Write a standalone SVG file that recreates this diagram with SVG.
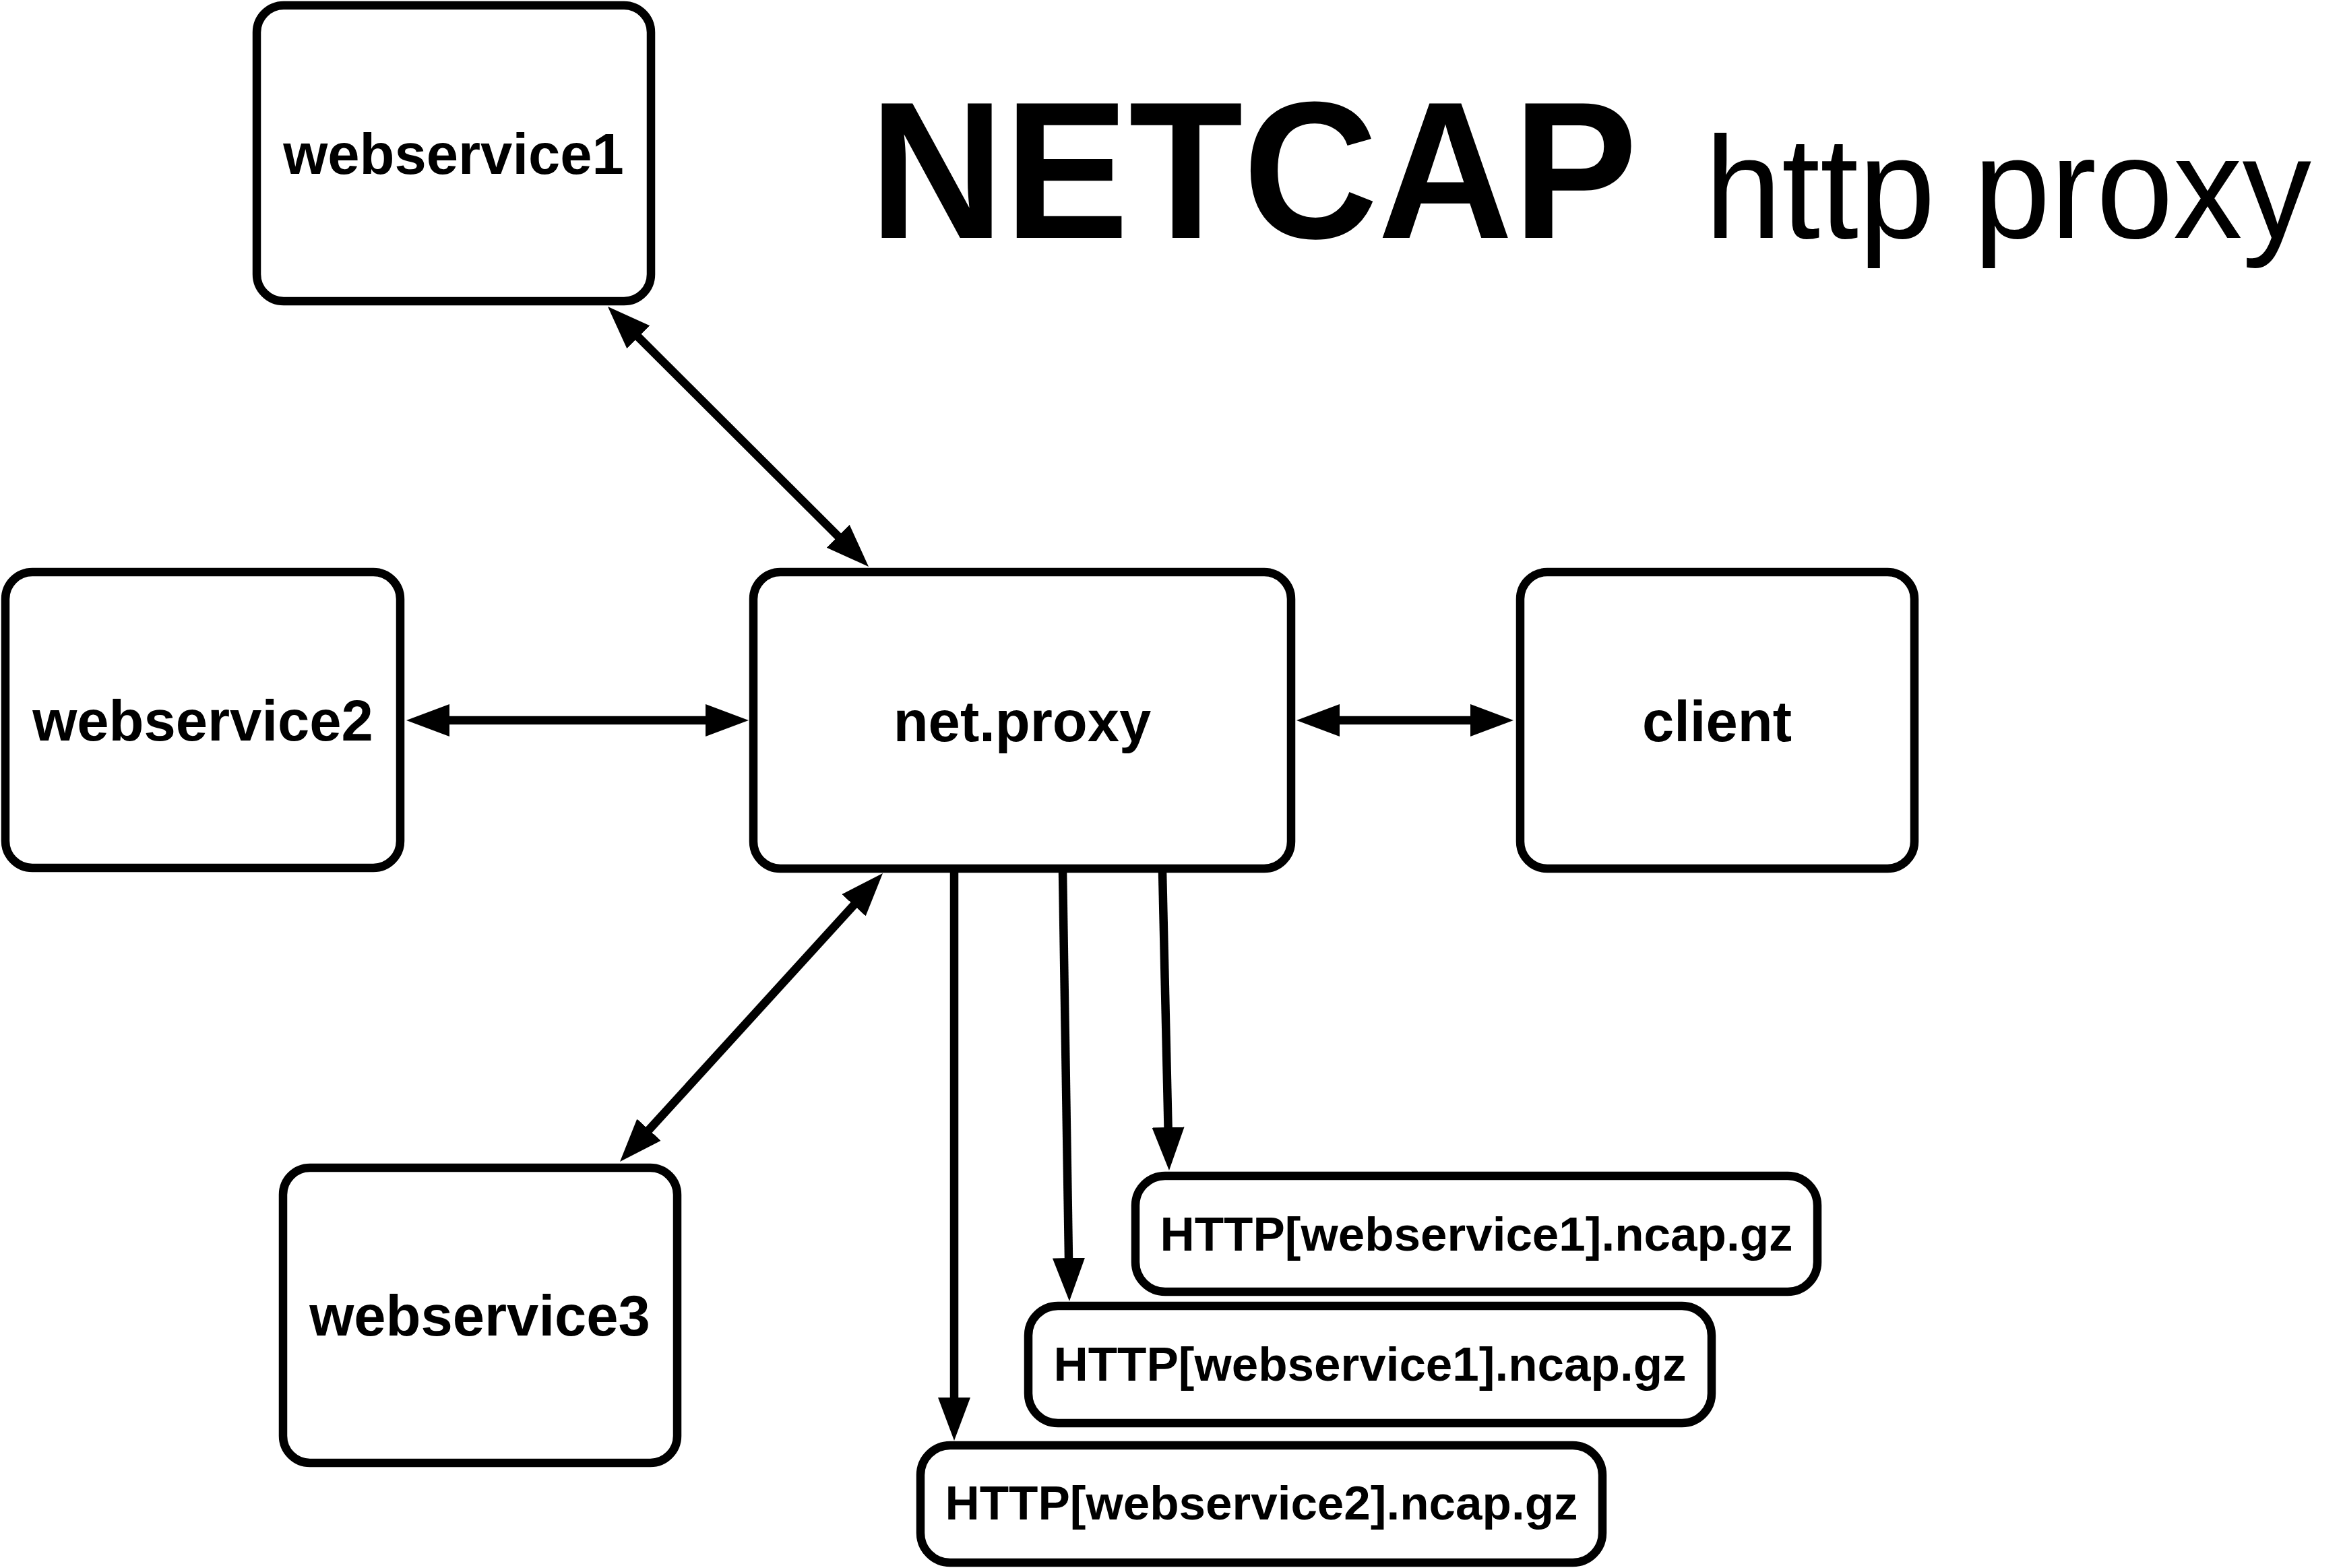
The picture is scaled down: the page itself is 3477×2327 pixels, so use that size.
<svg xmlns="http://www.w3.org/2000/svg" width="3477" height="2327" viewBox="0 0 3477 2327">
<style>
.box{fill:#fff;stroke:#000;stroke-width:12.5}
.lbl{font-family:"Liberation Sans",Arial,sans-serif;font-weight:bold;font-size:85px;text-anchor:middle;fill:#000}
.file{font-family:"Liberation Sans",Arial,sans-serif;font-weight:bold;font-size:71px;text-anchor:middle;fill:#000}
.con{fill:none;stroke:#000;stroke-width:12.5}
.t1{font-family:"Liberation Sans",Arial,sans-serif;font-weight:bold;font-size:290px;fill:#000}
.t2{font-family:"Liberation Sans",Arial,sans-serif;font-size:215px;fill:#000}
</style>
<defs>
<marker id="ah" markerUnits="userSpaceOnUse" markerWidth="70" markerHeight="50" viewBox="0 -25 70 50" refX="34" refY="0" orient="auto-start-reverse">
<path d="M0,-24 L64,0 L0,24 z" fill="#000"/>
</marker>
</defs>
<rect width="3477" height="2327" fill="#fff"/>
<g id="title">
<text class="t1" x="1290" y="353" textLength="1140" lengthAdjust="spacingAndGlyphs">NETCAP</text>
<text class="t2" x="2530" y="353" textLength="900" lengthAdjust="spacingAndGlyphs">http proxy</text>
</g>
<g id="connectors">
<line class="con" x1="923.2" y1="476.2" x2="1267.8" y2="819.8" marker-start="url(#ah)" marker-end="url(#ah)"/>
<line class="con" x1="633" y1="1069" x2="1081" y2="1069" marker-start="url(#ah)" marker-end="url(#ah)"/>
<line class="con" x1="1954" y1="1069" x2="2216" y2="1069" marker-start="url(#ah)" marker-end="url(#ah)"/>
<line class="con" x1="1289.8" y1="1318.2" x2="940.2" y2="1701.8" marker-start="url(#ah)" marker-end="url(#ah)"/>
<line class="con" x1="1416" y1="1292" x2="1416" y2="2108" marker-end="url(#ah)"/>
<line class="con" x1="1577" y1="1292" x2="1586.5" y2="1901" marker-end="url(#ah)"/>
<line class="con" x1="1725" y1="1292" x2="1734.3" y2="1707" marker-end="url(#ah)"/>
</g>
<g id="webservice1">
<rect class="box" x="381" y="8" width="585" height="439" rx="40"/>
<text class="lbl" x="673" y="258">webservice1</text>
</g>
<g id="webservice2">
<rect class="box" x="8" y="849" width="586" height="439" rx="40"/>
<text class="lbl" x="301" y="1099">webservice2</text>
</g>
<g id="netproxy">
<rect class="box" x="1118" y="849" width="798" height="440" rx="40"/>
<text class="lbl" x="1517" y="1100">net.proxy</text>
</g>
<g id="client">
<rect class="box" x="2256" y="849" width="585" height="440" rx="40"/>
<text class="lbl" x="2548" y="1100">client</text>
</g>
<g id="webservice3">
<rect class="box" x="420" y="1733" width="585" height="438" rx="40"/>
<text class="lbl" x="712" y="1982">webservice3</text>
</g>
<g id="file1">
<rect class="box" x="1685" y="1745" width="1012" height="172" rx="44"/>
<text class="file" x="2191" y="1856">HTTP[webservice1].ncap.gz</text>
</g>
<g id="file2">
<rect class="box" x="1526" y="1938" width="1014" height="174" rx="44"/>
<text class="file" x="2033" y="2049">HTTP[webservice1].ncap.gz</text>
</g>
<g id="file3">
<rect class="box" x="1366" y="2145" width="1012" height="174" rx="44"/>
<text class="file" x="1872" y="2255">HTTP[webservice2].ncap.gz</text>
</g>
</svg>
